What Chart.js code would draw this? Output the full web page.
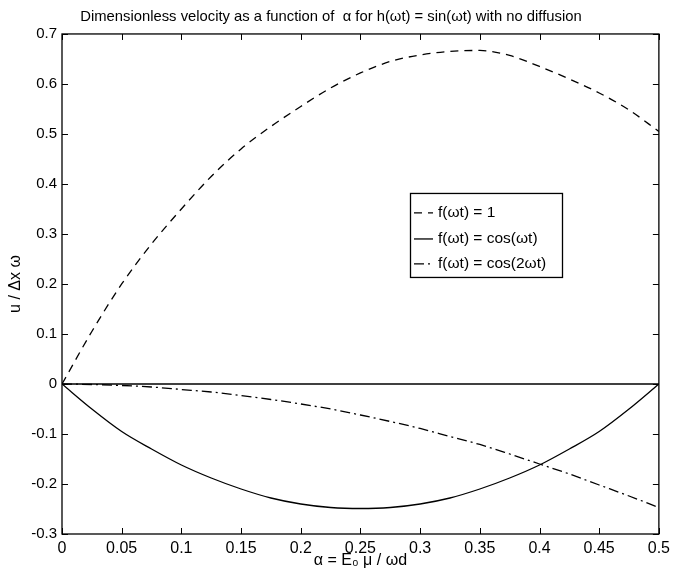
<!DOCTYPE html>
<html>
<head>
<meta charset="utf-8">
<script src="https://cdn.jsdelivr.net/npm/chart.js@4/dist/chart.umd.min.js"></script>
<style>
  html, body { margin: 0; padding: 0; background: #fff; }
  #wrap { width: 675px; height: 570px; }
</style>
</head>
<body>
<div id="wrap"><canvas id="grafico"></canvas></div>
<script>
// alpha = E0 mu / omega d
const alpha = [0, 0.025, 0.05, 0.075, 0.1, 0.125, 0.15, 0.175, 0.2, 0.225, 0.25,
               0.275, 0.3, 0.325, 0.35, 0.375, 0.4, 0.425, 0.45, 0.475, 0.5];

// f(wt) = 1
const uConst = [0, 0.105, 0.2, 0.28, 0.35, 0.415, 0.47, 0.515, 0.555, 0.592, 0.622,
                0.645, 0.658, 0.665, 0.667, 0.657, 0.635, 0.61, 0.582, 0.548, 0.505];
// f(wt) = cos(wt)
const uCos = [0, -0.05, -0.095, -0.13, -0.162, -0.188, -0.21, -0.228, -0.24, -0.247, -0.249,
              -0.247, -0.24, -0.228, -0.21, -0.188, -0.162, -0.13, -0.095, -0.05, 0];
// f(wt) = cos(2wt)
const uCos2 = [0, -0.001, -0.003, -0.006, -0.011, -0.016, -0.023, -0.031, -0.04, -0.05, -0.062,
               -0.075, -0.089, -0.105, -0.121, -0.14, -0.16, -0.18, -0.202, -0.224, -0.247];
// zero reference line
const uZero = alpha.map(() => 0);

const leyendas = ['f(\u03c9t) = 1', 'f(\u03c9t) = cos(\u03c9t)', 'f(\u03c9t) = cos(2\u03c9t)'];

const FUENTE = '"Liberation Sans", Arial, Helvetica, sans-serif';

function serie(ys, label, dash) {
    return {
        label: label,
        data: alpha.map((a, i) => ({ x: a, y: ys[i] })),
        borderColor: '#000',
        borderWidth: 1.3,
        borderDash: dash,
        pointRadius: 0,
        fill: false,
        cubicInterpolationMode: 'monotone'
    };
}

function fmt(v) {
    return parseFloat(v.toFixed(2)).toString();
}

// box, inward ticks and legend, MATLAB style
const marco = {
    id: 'marco',
    afterDatasetsDraw(chart) {
        const ctx = chart.ctx;
        const a = chart.chartArea;
        const xs = chart.scales.x, ys = chart.scales.y;
        ctx.save();
        ctx.strokeStyle = '#000';
        ctx.lineWidth = 1.3;
        ctx.setLineDash([]);
        ctx.strokeRect(a.left, a.top, a.right - a.left, a.bottom - a.top);
        ctx.lineWidth = 1;
        const t = 6;
        xs.ticks.forEach(tk => {
            const px = Math.round(xs.getPixelForValue(tk.value)) + 0.5;
            ctx.beginPath();
            ctx.moveTo(px, a.bottom); ctx.lineTo(px, a.bottom - t);
            ctx.moveTo(px, a.top); ctx.lineTo(px, a.top + t);
            ctx.stroke();
        });
        ys.ticks.forEach(tk => {
            const py = Math.round(ys.getPixelForValue(tk.value)) + 0.5;
            ctx.beginPath();
            ctx.moveTo(a.left, py); ctx.lineTo(a.left + t, py);
            ctx.moveTo(a.right, py); ctx.lineTo(a.right - t, py);
            ctx.stroke();
        });

        // legend
        const bx = a.left + 348, by = a.top + 159, bw = 152, bh = 84;
        ctx.fillStyle = '#fff';
        ctx.fillRect(bx, by, bw, bh);
        ctx.lineWidth = 1.3;
        ctx.strokeRect(bx + 0.5, by + 0.5, bw, bh);
        ctx.font = '15.5px ' + FUENTE;
        ctx.textBaseline = 'middle';
        ctx.fillStyle = '#000';
        const filas = [by + 20, by + 46, by + 71];
        for (let i = 0; i < 3; i++) {
            const ds = chart.data.datasets[i];
            ctx.beginPath();
            ctx.setLineDash(ds.borderDash || []);
            ctx.moveTo(bx + 4, filas[i]);
            ctx.lineTo(bx + 23, filas[i]);
            ctx.stroke();
            ctx.setLineDash([]);
            ctx.fillText(leyendas[i], bx + 28, filas[i]);
        }
        ctx.restore();
    }
};

const config = {
    type: 'line',
    data: {
        datasets: [
            serie(uConst, leyendas[0], [8, 6]),
            serie(uCos, leyendas[1], []),
            serie(uCos2, leyendas[2], [10, 4, 2, 4]),
            serie(uZero, 'cero', [])
        ]
    },
    options: {
        responsive: true,
        maintainAspectRatio: false,
        animation: false,
        layout: { padding: { left: 0, right: 13, top: 0, bottom: 0 } },
        plugins: {
            legend: { display: false },
            tooltip: { enabled: false },
            title: {
                display: true,
                text: 'Dimensionless velocity as a function of  \u03b1 for h(\u03c9t) = sin(\u03c9t) with no diffusion',
                color: '#000',
                font: { family: FUENTE, size: 14.8, weight: 'normal' },
                padding: { top: 8, bottom: 8.2 }
            }
        },
        scales: {
            x: {
                type: 'linear',
                min: 0, max: 0.5,
                grid: { display: false, drawTicks: false },
                border: { display: false },
                ticks: {
                    stepSize: 0.05, color: '#000', padding: 5, maxRotation: 0,
                    font: { family: FUENTE, size: 16 },
                    callback: v => fmt(v)
                },
                title: {
                    display: true,
                    text: '\u03b1 = E\u2080 \u03bc / \u03c9d',
                    color: '#000',
                    font: { family: FUENTE, size: 16 },
                    padding: { top: 0, bottom: 0 }
                },
                afterFit(s) { s.height = 36; }
            },
            y: {
                min: -0.3, max: 0.7,
                grid: { display: false, drawTicks: false },
                border: { display: false },
                ticks: {
                    stepSize: 0.1, color: '#000', padding: 5,
                    font: { family: FUENTE, size: 15 },
                    callback: v => fmt(v)
                },
                title: {
                    display: true,
                    text: 'u / \u0394x \u03c9',
                    color: '#000',
                    font: { family: FUENTE, size: 16 },
                    padding: { top: 6, bottom: 0 }
                },
                afterFit(s) { s.width = 62; }
            }
        }
    },
    plugins: [marco]
};

new Chart(document.getElementById('grafico').getContext('2d'), config);
</script>
</body>
</html>
